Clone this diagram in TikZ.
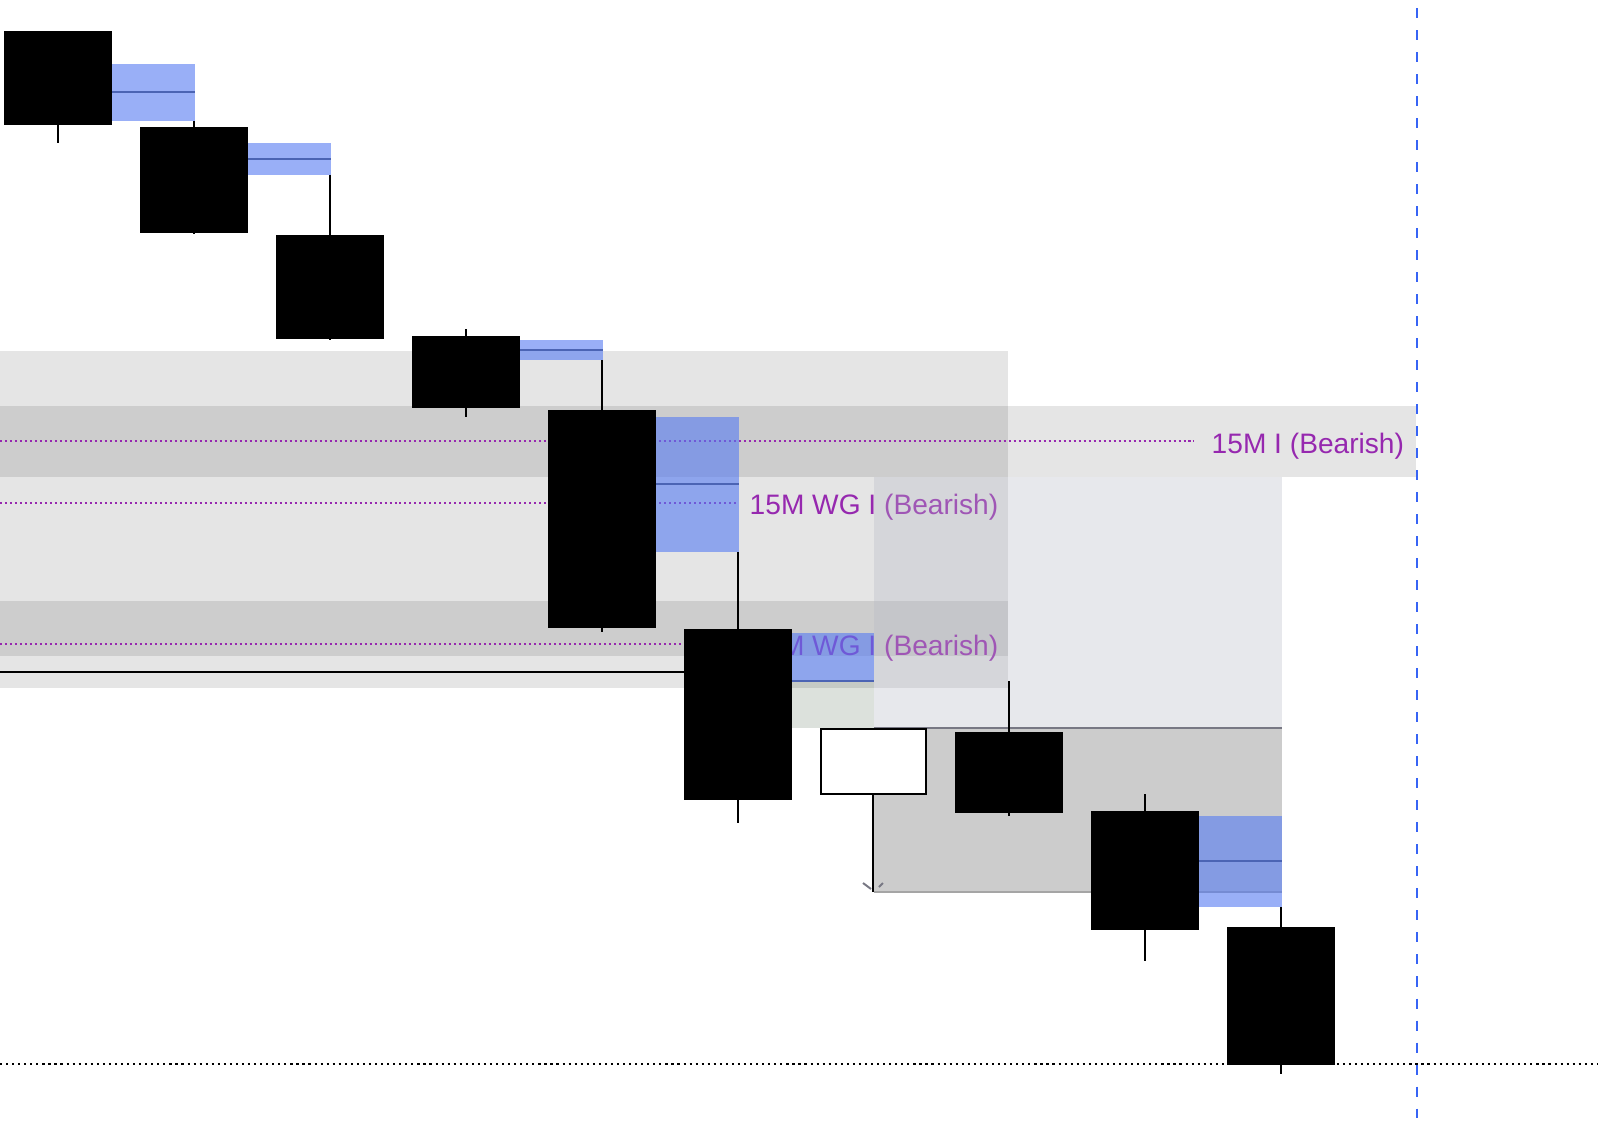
\documentclass[tikz,border=0pt]{standalone}
\usepackage{fontspec}
\setmainfont{Liberation Sans}
\definecolor{fvgblue}{RGB}{85,123,243}
\definecolor{fvgline}{RGB}{75,100,180}
\definecolor{lblpurple}{RGB}{150,40,175}
\definecolor{dashblue}{RGB}{55,100,245}
\definecolor{slate}{RGB}{181,184,196}
\definecolor{greenish}{RGB}{220,225,220}
\definecolor{edgegray}{RGB}{120,120,132}
\definecolor{edgelight}{RGB}{165,165,165}
\newcommand\mycandle[5]{% cx, body top, body bottom, wick top, wick bottom
  \draw[wick] (#1,#4) -- (#1,#5);
  \fill[body] ({#1-54},#2) rectangle ({#1+54},#3);
}
\newcommand\myfvg[5]{% x1, x2, y1, y2, mid
  \fill[fvg] (#1,#3) rectangle (#2,#4);
  \draw[fvgmid] (#1,#5) -- (#2,#5);
}
\begin{document}
\begin{tikzpicture}[x=0.01cm,y=-0.01cm,
  zone/.style={fill=black,fill opacity=0.1},
  wick/.style={line width=0.57pt},
  body/.style={fill=black},
  fvg/.style={fill=fvgblue,fill opacity=0.6},
  fvgmid/.style={draw=fvgline,line width=0.57pt},
  pdot/.style={draw=lblpurple,line width=0.57pt,dash pattern=on 0.57pt off 0.85pt},
  lbl/.style={text=lblpurple,font=\fontsize{8.0pt}{9.6pt}\selectfont,anchor=base west,inner sep=0pt}]
\useasboundingbox (0,0) rectangle (1598,1126);
\fill[white] (0,0) rectangle (1598,1126);
% greenish strip under blue box
\fill[greenish] (792,681) rectangle (874,728);
% gray zones
\fill[zone] (0,351) rectangle (1008,688);
\fill[zone] (0,406) rectangle (1416,477);
\fill[zone] (0,601) rectangle (1008,656);
% level lines
\draw[pdot] (0,441) -- (1194,441);
\draw[pdot] (0,503) -- (737,503);
\draw[pdot] (0,644) -- (737,644);
\draw[line width=0.57pt] (0,672) -- (700,672);
% labels
\node[lbl] (l1) at (1211,453) {15M I (Bearish)};
\node[lbl] (l2) at (749,514) {15M WG I (Bearish)};
\node[lbl] (l3) at (749,655) {15M WG I (Bearish)};
% lower gray zone
\fill[fill=black,fill opacity=0.2] (874,728) rectangle (1282,892);
\draw[edgelight,line width=0.45pt] (874,892) -- (1282,892);
% bluish zone
\fill[slate,fill opacity=0.32] (874,477) rectangle (1282,728);
\draw[edgegray,line width=0.5pt] (874,728) -- (1282,728);
% fair value gaps
\myfvg{112}{195}{64}{121}{92}
\myfvg{248}{331}{143}{175}{159}
\myfvg{520}{603}{340}{360}{350}
\myfvg{656}{739}{417}{552}{484}
\myfvg{792}{874}{633}{681}{681}
\myfvg{1199}{1282}{816}{907}{861}
% bottom dotted level
\draw[line width=0.62pt,dash pattern=on 0.62pt off 1.1pt] (0,1064) -- (1598,1064);
% candles
\mycandle{58}{31}{125}{31}{143}
\mycandle{194}{127}{233}{121}{234}
\mycandle{330}{235}{339}{175}{340}
\mycandle{466}{336}{408}{329}{417}
\mycandle{602}{410}{628}{360}{632}
\mycandle{738}{629}{800}{552}{823}
\draw[wick] (873,795) -- (873,892);
\draw[fill=white,line width=0.57pt] (821,729) rectangle (926,794);
\mycandle{1009}{732}{813}{681}{816}
\mycandle{1145}{811}{930}{794}{961}
\mycandle{1281}{927}{1065}{907}{1074}
% marker strokes at wick end
\draw[edgegray,line width=0.55pt] (863,883) -- (871,889);
\draw[edgegray,line width=0.55pt] (879,887) -- (883,883);
% vertical dashed line
\draw[dashblue,line width=0.57pt,dash pattern=on 2.845pt off 3.414pt] (1417,8) -- (1417,1118);
\end{tikzpicture}
\end{document}
